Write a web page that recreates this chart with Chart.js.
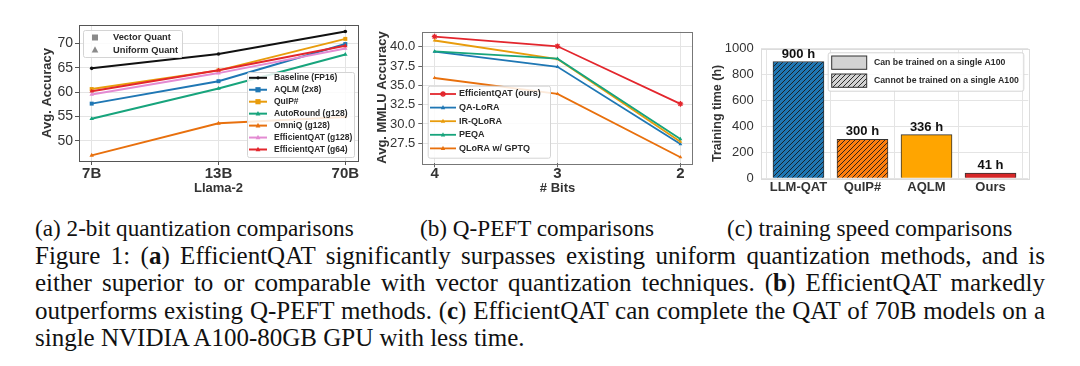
<!DOCTYPE html>
<html>
<head>
<meta charset="utf-8">
<script src="https://cdn.jsdelivr.net/npm/chart.js@4.4.1/dist/chart.umd.min.js"></script>
<style>
html, body { margin: 0; padding: 0; background: #fff; }
body { width: 1080px; height: 366px; position: relative; overflow: hidden; font-family: "Liberation Serif", "Times New Roman", serif; color: #111; }
.wrap { position: absolute; top: 0; }
.sub { position: absolute; top: 215px; font-size: 23.2px; white-space: nowrap; }
.cap { position: absolute; left: 35px; width: 1010px; top: 242px; font-size: 26px; line-height: 27.4px; }
.cap div { text-align: justify; text-align-last: justify; white-space: nowrap; }
.cap div.last { text-align-last: left; }
.cap span.w { display: inline; }
</style>
</head>
<body>
<div class="wrap" style="left:0px"><canvas id="chartA" width="365" height="205"></canvas></div>
<div class="wrap" style="left:360px"><canvas id="chartB" width="345" height="205"></canvas></div>
<div class="wrap" style="left:700px"><canvas id="chartC" width="380" height="205"></canvas></div>

<div class="sub" style="left:35px">(a) 2-bit quantization comparisons</div>
<div class="sub" style="left:420px">(b) Q-PEFT comparisons</div>
<div class="sub" style="left:727px">(c) training speed comparisons</div>

<div class="cap" id="cap">
  <div>Figure 1: (<b>a</b>) EfficientQAT significantly surpasses existing uniform quantization methods, and is</div>
  <div>either superior to or comparable with vector quantization techniques. (<b>b</b>) EfficientQAT markedly</div>
  <div>outperforms existing Q-PEFT methods. (<b>c</b>) EfficientQAT can complete the QAT of 70B models on a</div>
  <div class="last">single NVIDIA A100-80GB GPU with less time.</div>
</div>

<script>
document.addEventListener("DOMContentLoaded", function() {
// (a) 2-bit results on Llama-2
const llamaSizes = ['7B', '13B', '70B'];
const accTicks = [50, 55, 60, 65, 70];
const baselineFp16 = [64.86, 67.81, 72.41];
const aqlm2x8 = [57.61, 62.22, 69.85];
const quipSharp = [60.61, 64.44, 70.91];
const autoRoundG128 = [54.50, 60.72, 67.70];
const omniqG128 = [46.98, 53.56, 54.87];
const effQatG128 = [59.50, 63.88, 68.93];
const effQatG64 = [60.14, 64.48, 69.48];

// (b) Q-PEFT, MMLU
const bitLabels = ['4', '3', '2'];
const mmluTicks = [27.5, 30.0, 32.5, 35.0, 37.5, 40.0];
const effQatMmlu = [41.3, 40.05, 32.6];
const qaLoraMmlu = [39.35, 37.4, 27.4];
const irQloraMmlu = [40.8, 38.4, 27.7];
const peqaMmlu = [39.4, 38.45, 28.05];
const qloraGptqMmlu = [35.95, 33.9, 25.7];

// (c) training time
const methods = ['LLM-QAT', 'QuIP#', 'AQLM', 'Ours'];
const trainHours = [900, 300, 336, 41];
const hourTicks = [0, 200, 400, 600, 800, 1000];

// shrink caption font if a line would not fit
const cap = document.getElementById('cap');
let capSize = 26;
while (capSize > 18 && Array.from(cap.children).some(d => d.scrollWidth > d.clientWidth + 0.5)) {
    capSize -= 0.25;
    cap.style.fontSize = capSize + 'px';
}

Chart.defaults.font.family = '"Liberation Sans", Arial, sans-serif';
Chart.defaults.animation = false;
Chart.defaults.plugins.legend.display = false;
Chart.defaults.plugins.tooltip.enabled = false;

const pts = arr => arr.map((v, i) => ({ x: i, y: v }));

function hatch(bg) {
    const c = document.createElement('canvas');
    c.width = 5; c.height = 5;
    const x = c.getContext('2d');
    x.fillStyle = bg; x.fillRect(0, 0, 5, 5);
    x.strokeStyle = '#1a1a1a'; x.lineWidth = 0.9;
    x.beginPath();
    x.moveTo(0, 5); x.lineTo(5, 0);
    x.moveTo(-2.5, 2.5); x.lineTo(2.5, -2.5);
    x.moveTo(2.5, 7.5); x.lineTo(7.5, 2.5);
    x.stroke();
    return x.createPattern(c, 'repeat');
}

function drawMarker(ctx, style, x, y, r, color) {
    ctx.save();
    ctx.fillStyle = color; ctx.strokeStyle = color; ctx.lineWidth = 1;
    ctx.beginPath();
    if (style === 'rect') {
        ctx.rect(x - r, y - r, 2 * r, 2 * r); ctx.fill();
    } else if (style === 'triangle') {
        ctx.moveTo(x, y - r * 1.15); ctx.lineTo(x + r, y + r * 0.75); ctx.lineTo(x - r, y + r * 0.75);
        ctx.closePath(); ctx.fill();
    } else if (style === 'star') {
        for (let k = 0; k < 4; k++) {
            const a = k * Math.PI / 4;
            ctx.moveTo(x + Math.cos(a) * r, y + Math.sin(a) * r);
            ctx.lineTo(x - Math.cos(a) * r, y - Math.sin(a) * r);
        }
        ctx.lineWidth = 1.3; ctx.stroke();
    } else {
        ctx.arc(x, y, r, 0, Math.PI * 2); ctx.fill();
    }
    ctx.restore();
}

function legendBox(ctx, x, y, w, h) {
    ctx.save();
    ctx.fillStyle = 'rgba(255,255,255,0.85)';
    ctx.strokeStyle = '#d4d4d4'; ctx.lineWidth = 1;
    ctx.beginPath();
    ctx.roundRect(x + 0.5, y + 0.5, w, h, 2);
    ctx.fill(); ctx.stroke();
    ctx.restore();
}

function lineLegend(chart, box, x1, x2, textX, y0, step, fontSize, markerSize) {
    const ctx = chart.ctx;
    legendBox(ctx, box[0], box[1], box[2], box[3]);
    ctx.save();
    ctx.font = 'bold ' + fontSize + 'px "Liberation Sans", Arial, sans-serif';
    ctx.textBaseline = 'middle';
    chart.data.datasets.forEach((ds, i) => {
        const y = y0 + i * step;
        ctx.strokeStyle = ds.borderColor; ctx.lineWidth = ds.borderWidth;
        ctx.beginPath(); ctx.moveTo(x1, y); ctx.lineTo(x2, y); ctx.stroke();
        drawMarker(ctx, ds.pointStyle, (x1 + x2) / 2, y, markerSize[ds.pointStyle] || 2, ds.borderColor);
        ctx.fillStyle = '#2a2a2a';
        ctx.fillText(ds.label, textX, y);
    });
    ctx.restore();
}

function framePlugin(color) {
    return {
        id: 'frame',
        afterDatasetsDraw(chart) {
            const a = chart.chartArea, ctx = chart.ctx;
            ctx.save();
            ctx.strokeStyle = color; ctx.lineWidth = 1;
            ctx.strokeRect(Math.round(a.left) + 0.5, Math.round(a.top) + 0.5,
                Math.round(a.right - a.left), Math.round(a.bottom - a.top));
            ctx.restore();
        }
    };
}

const gridCol = '#e4e4e4';
const tickCol = '#333';

function lineSet(label, data, color, style, radius, width) {
    return {
        label: label, data: pts(data), borderColor: color, backgroundColor: color,
        pointBackgroundColor: color, pointBorderColor: color, pointStyle: style,
        pointRadius: radius, pointBorderWidth: style === 'star' ? 1.3 : 0,
        borderWidth: width, tension: 0
    };
}

// ---------- (a) ----------
const setsA = [
    lineSet('Baseline (FP16)', baselineFp16, '#111111', 'circle', 1.8, 2),
    lineSet('AQLM (2x8)', aqlm2x8, '#1f77b4', 'rect', 2.8, 2),
    lineSet('QuIP#', quipSharp, '#e89c0c', 'rect', 2.8, 2),
    lineSet('AutoRound (g128)', autoRoundG128, '#17a47c', 'triangle', 2.6, 2),
    lineSet('OmniQ (g128)', omniqG128, '#e8700d', 'triangle', 2.6, 2),
    lineSet('EfficientQAT (g128)', effQatG128, '#e38bd2', 'triangle', 2.6, 2),
    lineSet('EfficientQAT (g64)', effQatG64, '#e3262d', 'triangle', 2.6, 2)
];
setsA.forEach((d, i) => { d.order = -i; });

new Chart(document.getElementById('chartA'), {
    type: 'line',
    data: { datasets: setsA },
    options: {
        responsive: false,
        layout: { padding: { left: 0, top: 25, right: 7, bottom: 0 } },
        scales: {
            x: {
                type: 'linear', min: -0.1, max: 2.1,
                afterBuildTicks: s => { s.ticks = llamaSizes.map((_, i) => ({ value: i })); },
                ticks: { callback: v => llamaSizes[v], font: { size: 15, weight: 'bold', lineHeight: 1 }, color: tickCol, padding: 1, maxRotation: 0 },
                grid: { color: gridCol, tickColor: '#555', tickLength: 4 },
                border: { display: false },
                title: { display: true, text: 'Llama-2', font: { size: 13, weight: 'bold' }, color: tickCol, padding: { top: 0, bottom: 9 } },
                afterFit: s => { s.height = 44; }
            },
            y: {
                min: 45.83, max: 73.76,
                afterBuildTicks: s => { s.ticks = accTicks.map(v => ({ value: v })); },
                ticks: { font: { size: 14 }, color: tickCol, padding: 2 },
                grid: { color: gridCol, tickColor: '#555', tickLength: 4 },
                border: { display: false },
                title: { display: true, text: 'Avg. Accuracy', font: { size: 13, weight: 'bold' }, color: tickCol, padding: { top: 40, bottom: 0 } },
                afterFit: s => { s.width = 79; }
            }
        }
    },
    plugins: [framePlugin('#555'), {
        id: 'legendsA',
        afterDraw(chart) {
            const ctx = chart.ctx;
            legendBox(ctx, 83, 30, 99, 27);
            ctx.save();
            ctx.font = 'bold 9.3px "Liberation Sans", Arial, sans-serif';
            ctx.textBaseline = 'middle';
            drawMarker(ctx, 'rect', 95, 37.5, 3, '#8a8a8a');
            drawMarker(ctx, 'triangle', 95, 50, 3.3, '#8a8a8a');
            ctx.fillStyle = '#2a2a2a';
            ctx.fillText('Vector Quant', 113, 37.5);
            ctx.fillText('Uniform Quant', 113, 50);
            ctx.restore();
            lineLegend(chart, [247, 72, 107, 85], 249, 267, 274, 77.8, 11.95, 8.5, { rect: 2.6, triangle: 2.4, circle: 1.6 });
        }
    }]
});

// ---------- (b) ----------
const setsB = [
    lineSet('EfficientQAT (ours)', effQatMmlu, '#e3262d', 'star', 2.8, 1.8),
    lineSet('QA-LoRA', qaLoraMmlu, '#1f77b4', 'triangle', 2.2, 1.8),
    lineSet('IR-QLoRA', irQloraMmlu, '#e89c0c', 'triangle', 2.2, 1.8),
    lineSet('PEQA', peqaMmlu, '#17a47c', 'triangle', 2.2, 1.8),
    lineSet('QLoRA w/ GPTQ', qloraGptqMmlu, '#e8700d', 'triangle', 2.2, 1.8)
];
setsB.forEach((d, i) => { d.order = -i; });

new Chart(document.getElementById('chartB'), {
    type: 'line',
    data: { datasets: setsB },
    options: {
        responsive: false,
        layout: { padding: { left: 0, top: 31.7, right: 12.3, bottom: 0 } },
        scales: {
            x: {
                type: 'linear', min: -0.1, max: 2.1,
                afterBuildTicks: s => { s.ticks = bitLabels.map((_, i) => ({ value: i })); },
                ticks: { callback: v => bitLabels[v], font: { size: 15, weight: 'bold', lineHeight: 0.8 }, color: tickCol, padding: 1, maxRotation: 0 },
                grid: { color: gridCol, tickColor: '#666', tickLength: 4 },
                border: { display: false },
                title: { display: true, text: '# Bits', font: { size: 13, weight: 'bold' }, color: tickCol, padding: { top: 0, bottom: 9 } },
                afterFit: s => { s.height = 41.7; }
            },
            y: {
                min: 24.91, max: 41.94,
                afterBuildTicks: s => { s.ticks = mmluTicks.map(v => ({ value: v })); },
                ticks: { callback: v => v.toFixed(1), font: { size: 13 }, color: tickCol, padding: 3 },
                grid: { color: gridCol, tickColor: '#666', tickLength: 4 },
                border: { display: false },
                title: { display: true, text: 'Avg. MMLU Accuracy', font: { size: 13, weight: 'bold' }, color: tickCol, padding: { top: 14.5, bottom: 0 } },
                afterFit: s => { s.width = 62.3; }
            }
        }
    },
    plugins: [framePlugin('#777'), {
        id: 'legendB',
        afterDraw(chart) {
            lineLegend(chart, [67.7, 85.7, 122.3, 72], 70, 96, 99, 94, 13.6, 9, { star: 3, triangle: 2.2 });
        }
    }]
});

// ---------- (c) ----------
const barColors = [hatch('#1f77b4'), hatch('#ff7f0e'), '#ffa500', '#d62728'];

new Chart(document.getElementById('chartC'), {
    type: 'bar',
    data: {
        datasets: [{
            label: 'Training time',
            data: pts(trainHours),
            backgroundColor: barColors,
            borderColor: '#333',
            borderWidth: 1,
            barThickness: 51
        }]
    },
    options: {
        responsive: false,
        layout: { padding: { left: 0, top: 48.5, right: 51.7, bottom: 0 } },
        scales: {
            x: {
                type: 'linear', min: -0.59, max: 3.59, offset: false,
                afterBuildTicks: s => { s.ticks = methods.map((_, i) => ({ value: i })); },
                ticks: { callback: v => methods[v], font: { size: 13, weight: 'bold', lineHeight: 1 }, color: tickCol, padding: 3, maxRotation: 0, autoSkip: false },
                grid: { color: gridCol, drawTicks: false },
                border: { display: false },
                afterFit: s => { s.height = 26.7; }
            },
            y: {
                min: 0, max: 1000,
                afterBuildTicks: s => { s.ticks = hourTicks.map(v => ({ value: v })); },
                ticks: { callback: v => String(v), font: { size: 13 }, color: tickCol, padding: 7 },
                grid: { color: gridCol, drawTicks: false },
                border: { display: false },
                title: { display: true, text: 'Training time (h)', font: { size: 12.5, weight: 'bold' }, color: tickCol, padding: { top: 10, bottom: 0 } },
                afterFit: s => { s.width = 60.7; }
            }
        }
    },
    plugins: [framePlugin('#dcdcdc'), {
        id: 'barText',
        afterDraw(chart) {
            const ctx = chart.ctx;
            const meta = chart.getDatasetMeta(0);
            ctx.save();
            ctx.font = 'bold 13px "Liberation Sans", Arial, sans-serif';
            ctx.fillStyle = '#111';
            ctx.textAlign = 'center';
            ctx.textBaseline = 'bottom';
            meta.data.forEach((el, i) => {
                ctx.fillText(trainHours[i] + ' h', el.x, el.y - 1);
            });
            ctx.restore();

            legendBox(ctx, 127.7, 52.3, 195.6, 38.4);
            ctx.save();
            ctx.fillStyle = '#d3d3d3'; ctx.strokeStyle = '#333'; ctx.lineWidth = 1;
            ctx.fillRect(131.7, 56, 35, 13.3); ctx.strokeRect(131.7, 56, 35, 13.3);
            ctx.fillStyle = hatch('#d3d3d3');
            ctx.fillRect(131.7, 74, 35, 13.3); ctx.strokeRect(131.7, 74, 35, 13.3);
            ctx.font = 'bold 8.7px "Liberation Sans", Arial, sans-serif';
            ctx.fillStyle = '#2a2a2a';
            ctx.textBaseline = 'middle';
            ctx.fillText('Can be trained on a single A100', 174, 62.7);
            ctx.fillText('Cannot be trained on a single A100', 174, 80.7);
            ctx.restore();
        }
    }]
});
});
</script>
</body>
</html>
